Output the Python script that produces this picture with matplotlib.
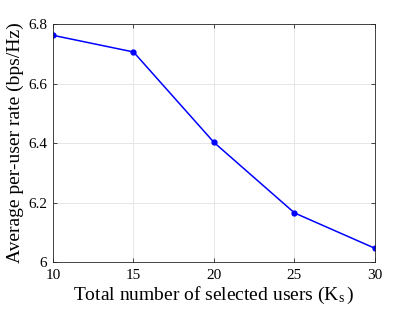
import matplotlib
matplotlib.use("Agg")
import matplotlib.pyplot as plt

ks = [10, 15, 20, 25, 30]
rate = [6.762, 6.706, 6.402, 6.165, 6.046]
xticks = [10, 15, 20, 25, 30]
yticks = [6.0, 6.2, 6.4, 6.6, 6.8]
ytick_labels = ["6", "6.2", "6.4", "6.6", "6.8"]

plt.rcParams['font.family'] = ['Liberation Serif', 'DejaVu Serif']
plt.rcParams['mathtext.fontset'] = 'stix'

fig = plt.figure(figsize=(4.15, 3.18), dpi=100)
ax = fig.add_axes([0.1277, 0.176, 0.7759, 0.7485])
ax.plot(ks, rate, color='#0000ff', marker='o', markersize=3.5, linewidth=1.1)
ax.set_xlim(10, 30)
ax.set_ylim(6.0, 6.8)
ax.set_xticks(xticks)
ax.set_xticklabels([str(v) for v in xticks])
ax.set_yticks(yticks)
ax.set_yticklabels(ytick_labels)
ax.grid(True, color='#e6e6e6', linewidth=0.7)
ax.set_axisbelow(True)
for s in ax.spines.values():
    s.set_color('#262626')
    s.set_linewidth(0.6)
ax.tick_params(direction='in', top=True, right=True, length=3, width=0.6,
               color='#262626', labelsize=11)
ax.tick_params(axis='x', pad=5)
ax.tick_params(axis='y', pad=4)
ax.set_xlabel('Total number of selected users (K$_{\\mathregular{s}}\\,$)', fontsize=14, labelpad=2)
ax.set_ylabel('Average per-user rate (bps/Hz)', fontsize=14, labelpad=3)
fig.savefig('out.png', dpi=100)
